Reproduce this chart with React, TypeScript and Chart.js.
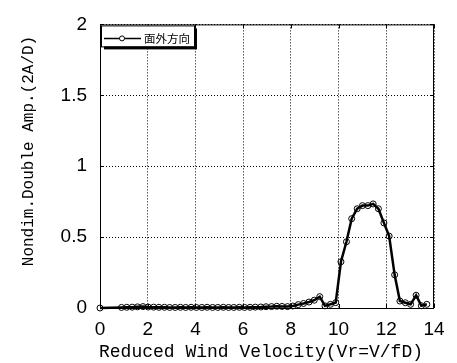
import React, { useEffect, useRef } from "react";
import { Chart, registerables } from "chart.js";

Chart.register(...registerables);

const xValues = [
  0, 0.9, 1.12, 1.35, 1.57, 1.8, 2.02, 2.25, 2.47, 2.7, 2.92, 3.15, 3.37, 3.59,
  3.82, 4.04, 4.27, 4.49, 4.72, 4.94, 5.17, 5.39, 5.61, 5.84, 6.06, 6.29, 6.51,
  6.74, 6.96, 7.19, 7.41, 7.63, 7.86, 8.08, 8.31, 8.53, 8.76, 8.98, 9.21, 9.43,
  9.66, 9.88, 10.1, 10.33, 10.55, 10.78, 11.0, 11.23, 11.45, 11.67, 11.9, 12.12,
  12.35, 12.57, 12.8, 13.02, 13.25, 13.47, 13.7,
];
const amplitudeValues = [
  0, 0.004, 0.005, 0.006, 0.008, 0.01, 0.007, 0.006, 0.005, 0.005, 0.004, 0.004,
  0.005, 0.004, 0.005, 0.004, 0.004, 0.005, 0.004, 0.004, 0.005, 0.004, 0.004,
  0.005, 0.004, 0.005, 0.006, 0.007, 0.009, 0.01, 0.012, 0.011, 0.01, 0.014,
  0.024, 0.032, 0.042, 0.055, 0.08, 0.015, 0.026, 0.038, 0.326, 0.467, 0.63,
  0.7, 0.722, 0.722, 0.734, 0.7, 0.6, 0.507, 0.234, 0.049, 0.037, 0.026, 0.09,
  0.016, 0.026,
];
const seriesLabel = "面外方向";
const xTitle = "Reduced Wind Velocity(Vr=V/fD)";
const yTitle = "Nondim.Double Amp.(2A/D)";
const xTicks = [0, 2, 4, 6, 8, 10, 12, 14];
const yTicks = [0, 0.5, 1, 1.5, 2];

const framePlugin = {
  id: "matlabFrame",
  afterDraw(chart: any) {
    const { ctx, chartArea } = chart;
    const { left, right, top, bottom } = chartArea;
    const xs = chart.scales.x;
    const ys = chart.scales.y;
    ctx.save();
    ctx.strokeStyle = "#000";
    ctx.lineWidth = 1;
    ctx.setLineDash([]);
    ctx.strokeRect(left + 0.5, top + 0.5, right - left - 1, bottom - top);
    // inside ticks
    ctx.beginPath();
    for (const v of xTicks) {
      const px = Math.round(xs.getPixelForValue(v)) + 0.5;
      ctx.moveTo(px, bottom);
      ctx.lineTo(px, bottom - 4);
      ctx.moveTo(px, top);
      ctx.lineTo(px, top + 4);
    }
    for (const v of yTicks) {
      const py = Math.round(ys.getPixelForValue(v)) + 0.5;
      ctx.moveTo(left, py);
      ctx.lineTo(left + 4, py);
      ctx.moveTo(right, py);
      ctx.lineTo(right - 4, py);
    }
    ctx.stroke();

    // legend
    const lx = left + 1;
    const ly = top + 1;
    const lw = 93;
    const lh = 21;
    ctx.fillStyle = "#000";
    ctx.fillRect(lx + 3, ly + 3, lw, lh);
    ctx.fillStyle = "#fff";
    ctx.fillRect(lx, ly, lw, lh);
    ctx.strokeStyle = "#000";
    ctx.lineWidth = 1;
    ctx.strokeRect(lx + 0.5, ly + 0.5, lw, lh);
    const cy = ly + 13;
    ctx.lineWidth = 1.5;
    ctx.beginPath();
    ctx.moveTo(lx + 3, cy);
    ctx.lineTo(lx + 40, cy);
    ctx.stroke();
    ctx.lineWidth = 1;
    ctx.fillStyle = "#fff";
    ctx.beginPath();
    ctx.arc(lx + 21, cy, 2.5, 0, Math.PI * 2);
    ctx.fill();
    ctx.stroke();
    ctx.fillStyle = "#000";
    ctx.font = "11.5px 'Noto Sans CJK JP'";
    ctx.textAlign = "left";
    ctx.textBaseline = "middle";
    ctx.fillText(seriesLabel, lx + 43, cy);

    // axis titles
    ctx.font = "18px 'Liberation Mono'";
    ctx.textAlign = "center";
    ctx.textBaseline = "middle";
    ctx.fillText(xTitle, 261, 352);
    ctx.save();
    ctx.translate(29, 151);
    ctx.rotate(-Math.PI / 2);
    ctx.font = "16px 'Liberation Mono'";
    ctx.fillText(yTitle, 0, 0);
    ctx.restore();
    ctx.restore();
  },
};

export default function App() {
  const canvasRef = useRef<HTMLCanvasElement | null>(null);

  useEffect(() => {
    document.body.style.margin = "0";
    const canvas = canvasRef.current;
    if (!canvas) return;
    const chart = new Chart(canvas, {
      type: "line",
      data: {
        datasets: [
          {
            label: seriesLabel,
            data: xValues.map((x, i) => ({ x, y: amplitudeValues[i] })),
            borderColor: "#000",
            borderWidth: 2.5,
            pointRadius: 3,
            pointBorderWidth: 1,
            pointBorderColor: "#000",
            pointBackgroundColor: "rgba(0,0,0,0)",
            tension: 0,
            clip: false as any,
          },
        ],
      },
      options: {
        responsive: false,
        animation: false,
        devicePixelRatio: 1,
        layout: { padding: { top: 20, right: 23, left: 0, bottom: 0 } },
        plugins: {
          legend: { display: false },
          tooltip: { enabled: false },
          title: { display: false },
        },
        scales: {
          x: {
            type: "linear",
            min: 0,
            max: 14,
            afterFit: (s: any) => {
              s.height = 55;
            },
            afterBuildTicks: (s: any) => {
              s.ticks = xTicks.map((v) => ({ value: v }));
            },
            ticks: {
              color: "#000",
              font: { family: "'Liberation Sans', Arial", size: 19 },
              padding: 10,
              maxRotation: 0,
              autoSkip: false,
              callback: (v: any) => String(v),
            },
            grid: {
              color: "#000",
              lineWidth: 1,
              drawTicks: false,
            },
            border: { display: false, dash: [1, 2] },
          },
          y: {
            type: "linear",
            min: 0,
            max: 2,
            afterFit: (s: any) => {
              s.width = 100;
            },
            afterBuildTicks: (s: any) => {
              s.ticks = yTicks.map((v) => ({ value: v }));
            },
            ticks: {
              color: "#000",
              font: { family: "'Liberation Sans', Arial", size: 19 },
              padding: 13,
              autoSkip: false,
              callback: (v: any) => String(v),
            },
            grid: {
              color: "#000",
              lineWidth: 1,
              drawTicks: false,
            },
            border: { display: false, dash: [1, 2] },
          },
        },
      },
      plugins: [framePlugin],
    });
    return () => chart.destroy();
  }, []);

  return <canvas ref={canvasRef} width={457} height={363} style={{ display: "block" }} />;
}
